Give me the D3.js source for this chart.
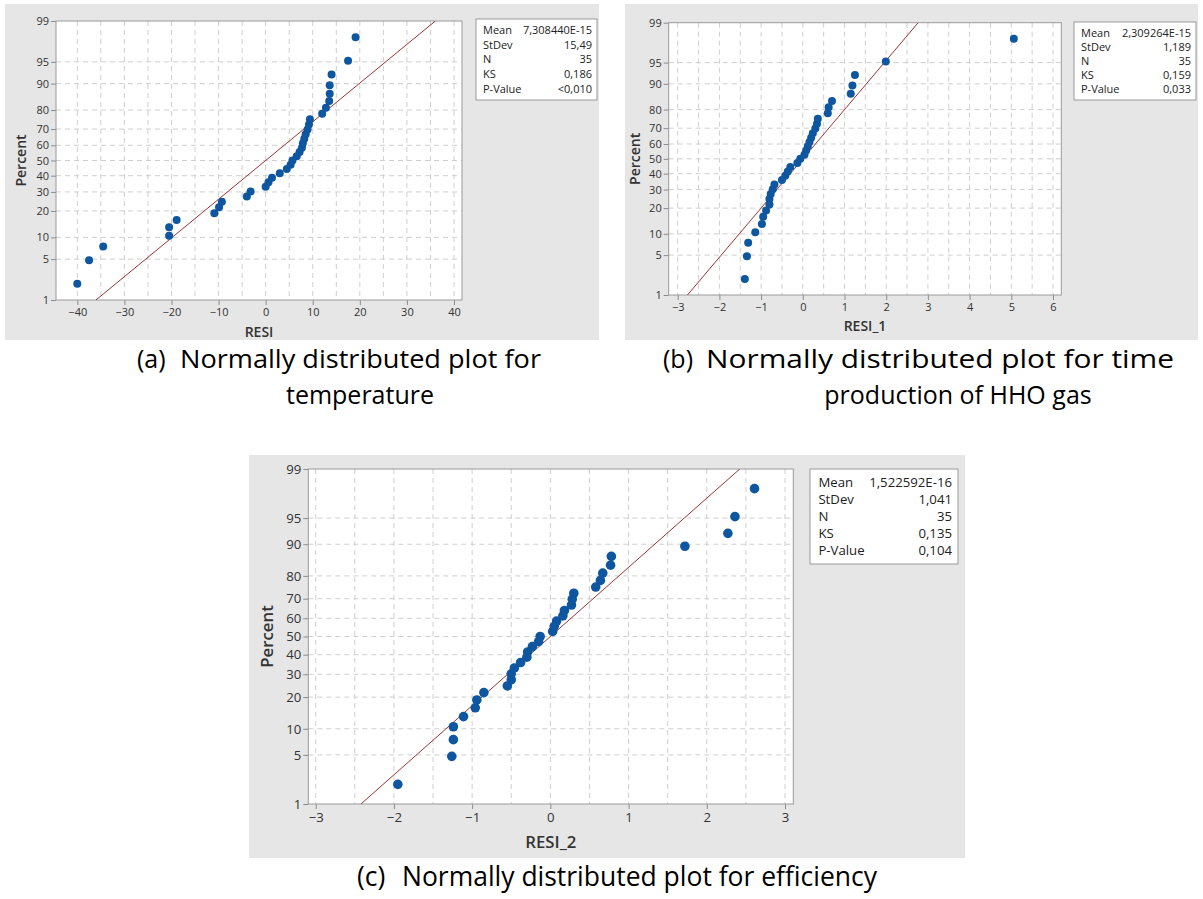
<!DOCTYPE html>
<html lang="en">
<head>
<meta charset="utf-8">
<style>
  body { margin: 0; background: #fff; }
  text { font-family: "Open Sans", "Noto Sans", sans-serif; }
  .cap { font-family: "Open Sans", "Noto Sans", sans-serif; fill: #000; }
</style>
</head>
<body>
<script src="https://cdnjs.cloudflare.com/ajax/libs/d3/7.8.5/d3.min.js"></script>
<script>

// plotting positions (percent) of the 35 ordered residuals
var percent = [2.0, 4.8, 7.6, 10.5, 13.3, 16.1, 18.9, 21.8, 24.6, 27.4, 30.2, 33.1, 35.9, 38.7, 41.5, 44.4, 47.2, 50.0,
  52.8, 55.6, 58.5, 61.3, 64.1, 66.9, 69.8, 72.6, 75.4, 78.2, 81.1, 83.9, 86.7, 89.5, 92.4, 95.2, 98.0];

var resiA = [-40.0, -37.5, -34.5, -20.5, -20.5, -18.9, -10.9, -9.9, -9.3, -4.0, -3.2, 0.0, 0.6, 1.35, 3.0, 4.5, 5.3, 5.7,
  6.6, 7.2, 7.7, 7.9, 8.2, 8.5, 8.9, 9.2, 9.4, 12.0, 12.8, 13.5, 13.6, 13.6, 14.0, 17.5, 19.1];

var resiB = [-1.39, -1.34, -1.31, -1.14, -0.98, -0.95, -0.88, -0.80, -0.80, -0.77, -0.72, -0.68, -0.50, -0.42, -0.36, -0.30,
  -0.13, -0.06, 0.04, 0.08, 0.12, 0.16, 0.20, 0.24, 0.30, 0.34, 0.36, 0.60, 0.62, 0.70, 1.15, 1.19, 1.25, 1.99, 5.06];

var resiC = [-1.95, -1.26, -1.24, -1.24, -1.11, -0.96, -0.94, -0.85, -0.55, -0.50, -0.50, -0.46, -0.38, -0.30, -0.29, -0.23,
  -0.15, -0.13, 0.03, 0.05, 0.08, 0.16, 0.18, 0.27, 0.28, 0.30, 0.58, 0.64, 0.67, 0.77, 0.78, 1.72, 2.27, 2.36, 2.61];

var yTicks = [1, 5, 10, 20, 30, 40, 50, 60, 70, 80, 90, 95, 99];
var xTicksA = [-40, -30, -20, -10, 0, 10, 20, 30, 40];
var xTicksB = [-3, -2, -1, 0, 1, 2, 3, 4, 5, 6];
var xTicksC = [-3, -2, -1, 0, 1, 2, 3];

var statLabels = ["Mean", "StDev", "N", "KS", "P-Value"];
var statsA = ["7,308440E-15", "15,49", "35", "0,186", "<0,010"];
var statsB = ["2,309264E-15", "1,189", "35", "0,159", "0,033"];
var statsC = ["1,522592E-16", "1,041", "35", "0,135", "0,104"];
var fitA = {mean: 7.308440e-15, sd: 15.49};
var fitB = {mean: 2.309264e-15, sd: 1.189};
var fitC = {mean: 1.522592e-16, sd: 1.041};

var captionA = ["(a)", "Normally distributed plot for", "temperature"];
var captionB = ["(b)", "Normally distributed plot for time", "production of HHO gas"];
var captionC = ["(c)", "Normally distributed plot for efficiency"];

// inverse normal cdf (Acklam)
function probit(p) {
  var a = [-3.969683028665376e+01, 2.209460984245205e+02, -2.759285104469687e+02, 1.383577518672690e+02, -3.066479806614716e+01, 2.506628277459239e+00];
  var b = [-5.447609879822406e+01, 1.615858368580409e+02, -1.556989798598866e+02, 6.680131188771972e+01, -1.328068155288572e+01];
  var c = [-7.784894002430293e-03, -3.223964580411365e-01, -2.400758277161838e+00, -2.549732539343734e+00, 4.374664141464968e+00, 2.938163982698783e+00];
  var d = [7.784695709041462e-03, 3.224671290700398e-01, 2.445134137142996e+00, 3.754408661907416e+00];
  var q, r;
  if (p < 0.02425) {
    q = Math.sqrt(-2 * Math.log(p));
    return (((((c[0]*q+c[1])*q+c[2])*q+c[3])*q+c[4])*q+c[5]) / ((((d[0]*q+d[1])*q+d[2])*q+d[3])*q+1);
  }
  if (p > 1 - 0.02425) return -probit(1 - p);
  q = p - 0.5; r = q * q;
  return (((((a[0]*r+a[1])*r+a[2])*r+a[3])*r+a[4])*r+a[5])*q / (((((b[0]*r+b[1])*r+b[2])*r+b[3])*r+b[4])*r+1);
}

var svg = d3.select("body").append("svg")
  .attr("width", 1203)
  .attr("height", 899);

var zMax = probit(0.99);

function panel(o) {
  var g = svg.append("g");
  var s = o.k; // font scale

  g.append("rect")
    .attr("x", o.bg[0]).attr("y", o.bg[1])
    .attr("width", o.bg[2] - o.bg[0]).attr("height", o.bg[3] - o.bg[1])
    .attr("fill", "#e6e6e6");

  g.append("rect")
    .attr("x", o.x0).attr("y", o.y0)
    .attr("width", o.x1 - o.x0).attr("height", o.y1 - o.y0)
    .attr("fill", "#fff");

  var x = d3.scaleLinear().domain(o.xDom).range(o.xRange);
  var z = d3.scaleLinear().domain([-zMax, zMax]).range([o.y1, o.y0]);
  var y = function(p) { return z(probit(p / 100)); };

  // grid
  var gridX = d3.range(o.xDom[0], o.xDom[1] + o.step / 4, o.step / 2)
    .filter(function(v) { return x(v) > o.x0 + 1 && x(v) < o.x1 - 1; });
  g.selectAll(".gx").data(gridX).enter().append("line")
    .attr("x1", x).attr("x2", x)
    .attr("y1", o.y0).attr("y2", o.y1)
    .attr("stroke", "#cfcfcf").attr("stroke-dasharray", "5,4");
  g.selectAll(".gy").data(yTicks.slice(1, -1)).enter().append("line")
    .attr("x1", o.x0).attr("x2", o.x1)
    .attr("y1", y).attr("y2", y)
    .attr("stroke", "#cfcfcf").attr("stroke-dasharray", "5,4");

  // axes
  var xAxis = g.append("g")
    .attr("transform", "translate(0," + o.y1 + ")")
    .call(d3.axisBottom(x).tickValues(o.xTicks).tickSize(5).tickPadding(3 * s).tickFormat(d3.format("d")));
  var yAxis = g.append("g")
    .attr("transform", "translate(" + o.x0 + ",0)")
    .call(d3.axisLeft(z).tickValues(yTicks.map(function(p) { return probit(p / 100); }))
      .tickSize(5).tickPadding(2)
      .tickFormat(function(v, i) { return yTicks[i]; }));
  [xAxis, yAxis].forEach(function(a) {
    a.select(".domain").remove();
    a.selectAll("line").attr("stroke", "#8c8c8c");
    a.selectAll("text").attr("fill", "#333").style("font-size", (11 * s) + "px");
  });

  g.append("rect")
    .attr("x", o.x0).attr("y", o.y0)
    .attr("width", o.x1 - o.x0).attr("height", o.y1 - o.y0)
    .attr("fill", "none").attr("stroke", "#9a9a9a");

  // fitted line
  var clipId = "clip" + o.id;
  g.append("clipPath").attr("id", clipId).append("rect")
    .attr("x", o.x0).attr("y", o.y0)
    .attr("width", o.x1 - o.x0).attr("height", o.y1 - o.y0);
  g.append("line")
    .attr("clip-path", "url(#" + clipId + ")")
    .attr("x1", x(o.fit.mean - o.fit.sd * zMax)).attr("y1", z(-zMax))
    .attr("x2", x(o.fit.mean + o.fit.sd * zMax)).attr("y2", z(zMax))
    .attr("stroke", "#9b3434").attr("stroke-width", 1);

  // points
  g.selectAll(".dot").data(o.values).enter().append("circle")
    .attr("r", 4 * s)
    .attr("cx", function(d) { return x(d); })
    .attr("cy", function(d, i) { return y(percent[i]); })
    .attr("fill", "#0f56a0");

  // titles
  g.append("text")
    .attr("x", (o.x0 + o.x1) / 2).attr("y", o.xTitleY)
    .attr("text-anchor", "middle")
    .style("font-size", (14 * s) + "px").style("font-weight", 600).attr("fill", "#333")
    .text(o.xTitle);
  g.append("text")
    .attr("transform", "translate(" + o.yTitleX + "," + (o.y0 + o.y1) / 2 + ") rotate(-90)")
    .attr("text-anchor", "middle")
    .style("font-size", (14 * s) + "px").style("font-weight", 600).attr("fill", "#333")
    .text("Percent");

  // stats box
  var bx = o.box;
  g.append("rect")
    .attr("x", bx[0]).attr("y", bx[1])
    .attr("width", bx[2] - bx[0]).attr("height", bx[3] - bx[1])
    .attr("fill", "#fff").attr("stroke", "#9a9a9a");
  var rowH = (bx[3] - bx[1] - 8 * s) / 5;
  var rows = g.selectAll(".row").data(statLabels).enter().append("g")
    .attr("transform", function(d, i) { return "translate(0," + (bx[1] + 4 * s + rowH * (i + 0.5)) + ")"; });
  rows.append("text")
    .attr("x", bx[0] + 7 * s).attr("dy", "0.35em")
    .style("font-size", (11 * s) + "px").attr("fill", "#222")
    .text(function(d) { return d; });
  rows.append("text")
    .attr("x", bx[2] - 5 * s).attr("dy", "0.35em").attr("text-anchor", "end")
    .style("font-size", (11 * s) + "px").attr("fill", "#222")
    .text(function(d, i) { return o.stats[i]; });
}

panel({id: "a", k: 1, bg: [5, 4, 599, 340], x0: 56, x1: 462, y0: 21, y1: 300,
  xDom: [-40, 40], xRange: [77.3, 454], step: 10, xTicks: xTicksA,
  values: resiA, fit: fitA, stats: statsA, xTitle: "RESI", xTitleY: 337, yTitleX: 26,
  box: [476, 19, 597, 100]});

panel({id: "b", k: 1, bg: [625, 4, 1198, 340], x0: 668.7, x1: 1061.3, y0: 22.7, y1: 295,
  xDom: [-3, 6], xRange: [677.7, 1053], step: 1, xTicks: xTicksB,
  values: resiB, fit: fitB, stats: statsB, xTitle: "RESI_1", xTitleY: 331, yTitleX: 640,
  box: [1074, 22, 1196, 100]});

panel({id: "c", k: 1.2, bg: [249, 455, 965, 858], x0: 308.3, x1: 793.3, y0: 469, y1: 804,
  xDom: [-3, 3], xRange: [315.7, 785], step: 1, xTicks: xTicksC,
  values: resiC, fit: fitC, stats: statsC, xTitle: "RESI_2", xTitleY: 848, yTitleX: 273,
  box: [810, 469, 958, 564]});

// captions: first line sized to its width in the reference, second line centred under it
function caption(c, lx, x, w, y, cx2, y2) {
  var t = svg.append("text").attr("class", "cap")
    .attr("x", x).attr("y", y)
    .style("font-size", "24px")
    .text(c[1]);
  var len = t.node().getComputedTextLength();
  var fs = 24 * w / len;
  if (c[2]) fs = Math.min(fs, 25); // keep the two lines apart
  t.style("font-size", fs + "px");
  if (len * fs / 24 < w - 1) t.attr("textLength", w).attr("lengthAdjust", "spacingAndGlyphs");
  svg.append("text").attr("class", "cap")
    .attr("x", lx).attr("y", y)
    .style("font-size", fs + "px")
    .text(c[0]);
  if (c[2]) {
    svg.append("text").attr("class", "cap")
      .attr("x", cx2).attr("y", y2)
      .attr("text-anchor", "middle")
      .style("font-size", fs + "px")
      .text(c[2]);
  }
}

caption(captionA, 137, 180, 361, 368, 360, 404);
caption(captionB, 663, 706, 468, 368, 958, 404);
caption(captionC, 357, 402, 475, 886);

</script>
</body>
</html>
